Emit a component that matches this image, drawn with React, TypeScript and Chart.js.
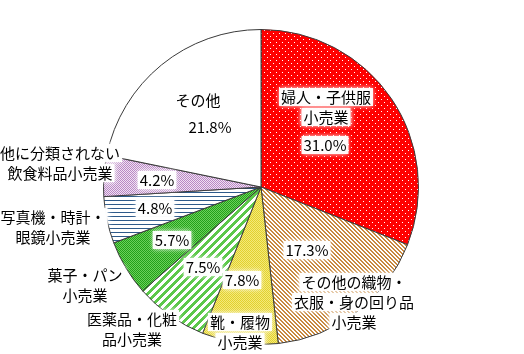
import React, { useEffect, useRef } from "react";
import { Chart, registerables } from "chart.js";

Chart.register(...registerables);

const categories = [
  "婦人・子供服小売業",
  "その他の織物・衣服・身の回り品小売業",
  "靴・履物小売業",
  "医薬品・化粧品小売業",
  "菓子・パン小売業",
  "写真機・時計・眼鏡小売業",
  "他に分類されない飲食料品小売業",
  "その他",
];
const shares = [31.0, 17.3, 7.8, 7.5, 5.7, 4.8, 4.2, 21.8];
const valueLabels = ["31.0%", "17.3%", "7.8%", "7.5%", "5.7%", "4.8%", "4.2%", "21.8%"];

// label layout relative to pie centre: [lines, dx, dy]
const nameLabels: [string[], number, number][] = [
  [["婦人・子供服", "小売業"], 65, -90],
  [["その他の織物・", "衣服・身の回り品", "小売業"], 93, 95],
  [["靴・履物", "小売業"], -21, 135],
  [["医薬品・化粧", "品小売業"], -129, 132],
  [["菓子・パン", "小売業"], -176, 88],
  [["写真機・時計・", "眼鏡小売業"], -208, 30],
  [["他に分類されない", "飲食料品小売業"], -201, -34],
  [["その他"], -63, -87],
];
const valuePos: [number, number][] = [
  [64, -42],
  [46, 63],
  [-19, 93],
  [-58, 80],
  [-89, 53],
  [-106, 21],
  [-104, -7],
  [-51, -60],
];

function makePattern(size: number, draw: (c: CanvasRenderingContext2D) => void) {
  const cv = document.createElement("canvas");
  cv.width = size;
  cv.height = size;
  const c = cv.getContext("2d")!;
  draw(c);
  return c.createPattern(cv, "repeat")!;
}

function buildPatterns() {
  const red = makePattern(6, (c) => {
    c.fillStyle = "#FF0000";
    c.fillRect(0, 0, 6, 6);
    c.fillStyle = "#FFFFFF";
    c.fillRect(0, 0, 1, 1);
    c.fillRect(3, 3, 1, 1);
  });
  const brown = makePattern(4, (c) => {
    c.fillStyle = "#FFFFFF";
    c.fillRect(0, 0, 4, 4);
    c.fillStyle = "#C8893F";
    for (let i = 0; i < 4; i++) {
      c.fillRect(i, i, 1, 1);
      c.fillRect((i + 1) % 4, i, 1, 1);
    }
  });
  const yellow = makePattern(2, (c) => {
    c.fillStyle = "#F4EA78";
    c.fillRect(0, 0, 2, 2);
    c.fillStyle = "#E2D030";
    c.fillRect(0, 0, 1, 1);
    c.fillRect(1, 1, 1, 1);
  });
  const greenStripe = makePattern(8, (c) => {
    c.fillStyle = "#FFFFFF";
    c.fillRect(0, 0, 8, 8);
    c.fillStyle = "#5CC84A";
    for (let i = 0; i < 8; i++) {
      for (let k = 0; k < 4; k++) c.fillRect((7 - i + k) % 8, i, 1, 1);
    }
  });
  const greenCheck = makePattern(2, (c) => {
    c.fillStyle = "#6CD05A";
    c.fillRect(0, 0, 2, 2);
    c.fillStyle = "#22A01A";
    c.fillRect(0, 0, 1, 1);
    c.fillRect(1, 1, 1, 1);
  });
  const blue = makePattern(4, (c) => {
    c.fillStyle = "#FFFFFF";
    c.fillRect(0, 0, 4, 4);
    c.fillStyle = "#2E5A8A";
    c.fillRect(0, 0, 4, 1);
  });
  const pink = makePattern(2, (c) => {
    c.fillStyle = "#F0E0F2";
    c.fillRect(0, 0, 2, 2);
    c.fillStyle = "#B888C4";
    c.fillRect(0, 0, 1, 1);
    c.fillRect(1, 1, 1, 1);
  });
  return [red, brown, yellow, greenStripe, greenCheck, blue, pink, "#FFFFFF"];
}

const FONT = '15px "Noto Sans CJK JP", "Noto Sans", sans-serif';

function drawBoxedText(ctx: CanvasRenderingContext2D, text: string, x: number, y: number) {
  ctx.font = FONT;
  const w = ctx.measureText(text).width;
  ctx.save();
  ctx.shadowColor = "rgba(255,255,255,1)";
  ctx.shadowBlur = 5;
  ctx.fillStyle = "rgba(255,255,255,0.95)";
  ctx.fillRect(x - w / 2 - 2, y - 9, w + 4, 18);
  ctx.restore();
  ctx.fillStyle = "#000000";
  ctx.textAlign = "center";
  ctx.textBaseline = "middle";
  ctx.fillText(text, x, y + 0.5);
}

const labelPlugin = {
  id: "pieLabels",
  afterDatasetsDraw(chart: any) {
    const ctx: CanvasRenderingContext2D = chart.ctx;
    const arc = chart.getDatasetMeta(0).data[0];
    const cx = arc.x;
    const cy = arc.y;
    ctx.save();
    nameLabels.forEach(([lines, dx, dy]) => {
      lines.forEach((ln, i) => drawBoxedText(ctx, ln, cx + dx, cy + dy + i * 20));
    });
    valueLabels.forEach((v, i) => {
      drawBoxedText(ctx, v, cx + valuePos[i][0], cy + valuePos[i][1]);
    });
    ctx.restore();
  },
};

export default function App() {
  const ref = useRef<HTMLCanvasElement | null>(null);
  useEffect(() => {
    if (!ref.current) return;
    const chart = new Chart(ref.current, {
      type: "pie",
      data: {
        labels: categories,
        datasets: [
          {
            data: shares,
            backgroundColor: buildPatterns() as any,
            borderColor: "#3A3A3A",
            borderWidth: 1,
          },
        ],
      },
      options: {
        responsive: false,
        animation: false,
        layout: { padding: { top: 29, bottom: 9, left: 0, right: 2 } },
        plugins: {
          legend: { display: false },
          tooltip: { enabled: false },
        },
      },
      plugins: [labelPlugin],
    });
    return () => chart.destroy();
  }, []);
  return (
    <div style={{ position: "absolute", left: 0, top: 0, width: 524, height: 354, background: "#fff" }}>
      <canvas ref={ref} width={524} height={354} />
    </div>
  );
}
